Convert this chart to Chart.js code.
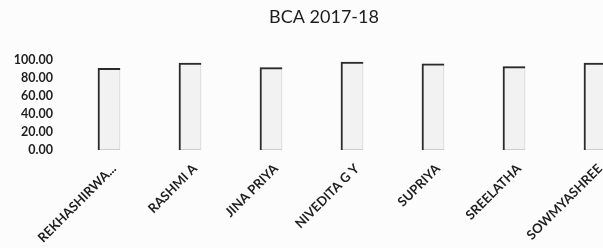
<!DOCTYPE html>
<html>
<head>
<meta charset="utf-8">
<script src="https://cdn.jsdelivr.net/npm/chart.js@4/dist/chart.umd.min.js"></script>
<style>
  html, body { margin: 0; padding: 0; background: #fcfcfc; overflow: hidden; }
  #wrap { width: 603px; height: 248px; overflow: hidden; }
  canvas { display: block; }
</style>
</head>
<body>
<div id="wrap"><canvas id="c" width="640" height="248"></canvas></div>
<script>
const chartTitle = 'BCA 2017-18';
const categories = ['REKHASHIRWA...', 'RASHMI A', 'JINA PRIYA', 'NIVEDITA G Y', 'SUPRIYA', 'SREELATHA', 'SOWMYASHREE'];
const scores = [91, 97, 92, 98, 96, 93, 97];
const yTickValues = [0, 20, 40, 60, 80, 100];

const ctx = document.getElementById('c').getContext('2d');
new Chart(ctx, {
  type: 'bar',
  data: {
    labels: categories,
    datasets: [
      {
        data: scores,
        backgroundColor: 'rgba(238,238,238,0.7)',
        borderColor: '#cdcdcd',
        borderWidth: 1,
        borderSkipped: false,
        grouped: false,
        barPercentage: 0.28,
        categoryPercentage: 1,
        order: 2
      },
      {
        data: scores,
        backgroundColor: 'rgba(0,0,0,0)',
        borderColor: '#2b2b2b',
        borderWidth: { left: 2, top: 2, right: 0, bottom: 0 },
        borderSkipped: false,
        grouped: false,
        barPercentage: 0.28,
        categoryPercentage: 1,
        order: 1
      }
    ]
  },
  options: {
    responsive: false,
    devicePixelRatio: 1,
    animation: false,
    layout: { padding: { left: 12.5, right: 4.5, top: 0, bottom: 0 } },
    plugins: {
      legend: { display: false },
      tooltip: { enabled: false },
      title: {
        display: true,
        text: chartTitle,
        color: '#1e1e1e',
        font: { family: 'Lato', size: 18, weight: 'normal' },
        padding: { top: 6, bottom: 32.4 }
      }
    },
    scales: {
      x: {
        grid: { display: false, drawTicks: false },
        border: { display: false },
        ticks: {
          autoSkip: false,
          minRotation: 45,
          maxRotation: 45,
          padding: 11,
          labelOffset: 5,
          color: '#1e1e1e',
          font: { family: 'Lato', size: 13, weight: 'bold' }
        },
        afterFit: (s) => { s.height = 98; }
      },
      y: {
        min: 0,
        max: 100,
        afterBuildTicks: (s) => { s.ticks = yTickValues.map(v => ({ value: v })); },
        grid: { display: false, drawTicks: false },
        border: { display: false },
        ticks: {
          padding: 15.5,
          color: '#1e1e1e',
          font: { family: 'Lato', size: 12.5, weight: 'bold' },
          callback: (v) => Number(v).toFixed(2)
        },
        afterFit: (s) => { s.width = 56; }
      }
    }
  }
});
</script>
</body>
</html>
